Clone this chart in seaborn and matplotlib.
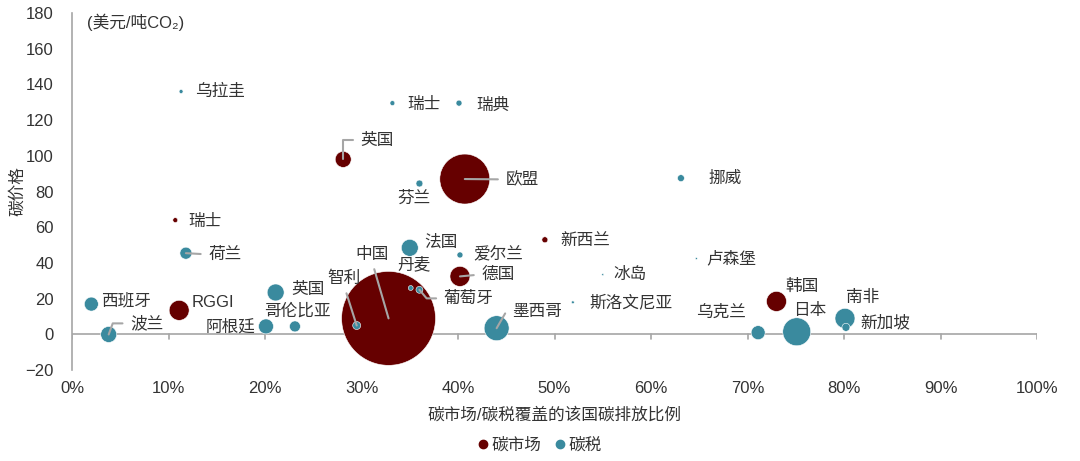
import pandas as pd
import seaborn as sns
import matplotlib.pyplot as plt
from matplotlib.lines import Line2D

# data: coverage share (%), carbon price (USD/tCO2), bubble size (covered emissions, relative)
names = ['瑞士', '英国', '欧盟', '新西兰', 'RGGI', '中国', '德国', '韩国',
         '乌拉圭', '瑞士', '瑞典', '芬兰', '挪威', '荷兰', '法国', '爱尔兰', '冰岛', '卢森堡',
         '西班牙', '波兰', '英国', '阿根廷', '哥伦比亚', '智利', '丹麦', '葡萄牙', '墨西哥',
         '斯洛文尼亚', '乌克兰', '日本', '南非', '新加坡']
kinds = ['碳市场'] * 8 + ['碳税'] * 24
coverage = [10.7, 28.1, 40.7, 49.0, 11.1, 32.8, 40.2, 73.0,
            11.3, 33.2, 40.1, 36.0, 63.1, 11.8, 35.0, 40.2, 55.0, 64.7,
            2.0, 3.8, 21.1, 20.1, 23.1, 29.5, 35.1, 36.0, 44.0,
            51.9, 71.1, 75.1, 80.1, 80.2]
price = [64, 98, 87, 53, 13.5, 9, 32.5, 18.5,
         136, 129.5, 129.5, 84.5, 87.5, 45.5, 48.5, 44.5, 33.5, 42.5,
         17, 0, 23.5, 4.5, 4.5, 5, 26, 25, 3.5,
         18, 1, 1.5, 9, 4]
emission = [6, 64, 625, 9, 100, 2209, 100, 100,
            4, 6, 9, 12, 12, 36, 72, 9, 1, 1,
            49, 64, 72, 56, 30, 16, 6, 12, 156,
            2, 49, 196, 100, 16]

df = pd.DataFrame({'名称': names, '类型': kinds, '覆盖比例': coverage,
                   '碳价格': price, '排放': emission})

# label placement (data coords), alignment, leader style (angle of the leg at the point)
label_pos = {
    ('瑞士', '碳市场'): (12.0, 63.3, 'left', None),
    ('英国', '碳市场'): (29.9, 108.6, 'left', 90),
    ('欧盟', '碳市场'): (44.9, 86.8, 'left', 'line'),
    ('新西兰', '碳市场'): (50.6, 52.7, 'left', None),
    ('RGGI', '碳市场'): (12.4, 17.9, 'left', None),
    ('中国', '碳市场'): (31.1, 44.8, 'center', 'line'),
    ('德国', '碳市场'): (42.4, 33.6, 'left', 'line'),
    ('韩国', '碳市场'): (73.9, 26.9, 'left', None),
    ('乌拉圭', '碳税'): (12.7, 136, 'left', None),
    ('瑞士', '碳税'): (34.7, 128.5, 'left', None),
    ('瑞典', '碳税'): (41.9, 128.5, 'left', None),
    ('芬兰', '碳税'): (35.4, 76.2, 'center', None),
    ('挪威', '碳税'): (65.9, 87.4, 'left', None),
    ('荷兰', '碳税'): (14.1, 44.8, 'left', 'line'),
    ('法国', '碳税'): (36.5, 51.5, 'left', None),
    ('爱尔兰', '碳税'): (41.6, 44.8, 'left', None),
    ('冰岛', '碳税'): (56.1, 33.6, 'left', None),
    ('卢森堡', '碳税'): (65.7, 42.6, 'left', None),
    ('西班牙', '碳税'): (3.0, 19.0, 'left', None),
    ('波兰', '碳税'): (6.0, 6.2, 'left', 70),
    ('英国', '碳税'): (22.7, 25.2, 'left', None),
    ('阿根廷', '碳税'): (19.0, 4.5, 'right', None),
    ('哥伦比亚', '碳税'): (23.4, 12.9, 'center', None),
    ('智利', '碳税'): (28.2, 31.4, 'center', 'line'),
    ('丹麦', '碳税'): (35.4, 39.2, 'center', None),
    ('葡萄牙', '碳税'): (38.5, 20.2, 'left', -50),
    ('墨西哥', '碳税'): (45.6, 12.9, 'left', 60),
    ('斯洛文尼亚', '碳税'): (53.6, 17.9, 'left', None),
    ('乌克兰', '碳税'): (67.3, 12.3, 'center', None),
    ('日本', '碳税'): (74.7, 13.4, 'left', None),
    ('南非', '碳税'): (80.2, 20.7, 'left', None),
    ('新加坡', '碳税'): (81.7, 6.7, 'left', None),
}

palette = {'碳市场': '#660000', '碳税': '#3a8a9e'}
text_color = '#333333'
line_color = '#a6a6a6'

sns.set_style('white')
plt.rcParams['font.family'] = ['Liberation Sans', 'Noto Sans CJK SC', 'DejaVu Sans']

fig = plt.figure(figsize=(10.8, 4.61), dpi=100)
ax = fig.add_axes([0.0667, 0.197, 0.8935, 0.775])

vmax = max(emission)
sns.scatterplot(data=df, x='覆盖比例', y='碳价格', hue='类型', size='排放',
                sizes=(0, 2.07 * vmax), size_norm=(0, vmax), palette=palette,
                edgecolor='white', linewidth=0.4, alpha=1, legend=False, ax=ax)

for _, row in df.iterrows():
    lx, ly, ha, leader = label_pos[(row['名称'], row['类型'])]
    if leader is None:
        ax.text(lx, ly, row['名称'], ha=ha, va='center', fontsize=12, color=text_color)
    else:
        if leader == 'line':
            cs = 'arc3'
        else:
            cs = f'angle,angleA=0,angleB={leader},rad=0'
        relpos = (0, 0.5) if ha == 'left' else (0.5, 0)
        ax.annotate(row['名称'], xy=(row['覆盖比例'], row['碳价格']), xytext=(lx, ly),
                    ha=ha, va='center', fontsize=12, color=text_color,
                    arrowprops=dict(arrowstyle='-', color=line_color, lw=1.5,
                                    shrinkA=3, shrinkB=0, relpos=relpos,
                                    connectionstyle=cs))

ax.set_xlim(0, 100)
ax.set_ylim(-20, 180)
ax.set_xticks(range(0, 101, 10))
ax.set_xticklabels([f'{t}%' for t in range(0, 101, 10)])
ax.set_yticks(range(-20, 181, 20))
ax.tick_params(axis='both', length=0, labelsize=12, labelcolor=text_color)
ax.tick_params(axis='y', pad=13)
ax.tick_params(axis='x', pad=8)

# zero line with small downward ticks
ax.axhline(0, color=line_color, lw=1.2, zorder=0)
for t in range(0, 101, 10):
    ax.plot([t, t], [0, -2.8], color=line_color, lw=1.2, zorder=0)

for s in ['top', 'right', 'bottom']:
    ax.spines[s].set_visible(False)
ax.spines['left'].set_color(line_color)
ax.spines['left'].set_linewidth(1.2)

ax.set_xlabel('碳市场/碳税覆盖的该国碳排放比例', fontsize=12, color=text_color, labelpad=8)
ax.set_ylabel('碳价格', fontsize=12, color=text_color)
ax.yaxis.set_label_coords(-0.049, 0.5)
ax.text(1.6, 174.8, '(美元/吨CO₂)', fontsize=12, color=text_color, va='center')

handles = [Line2D([], [], marker='o', ls='', color=palette[k], markersize=6, label=k)
           for k in ['碳市场', '碳税']]
fig.legend(handles=handles, loc='center', bbox_to_anchor=(0.5, 0.035), ncol=2,
           frameon=False, fontsize=12, handlelength=0.6, handletextpad=0.2,
           columnspacing=0.8, labelcolor=text_color)

fig.savefig('out.png', dpi=100)
